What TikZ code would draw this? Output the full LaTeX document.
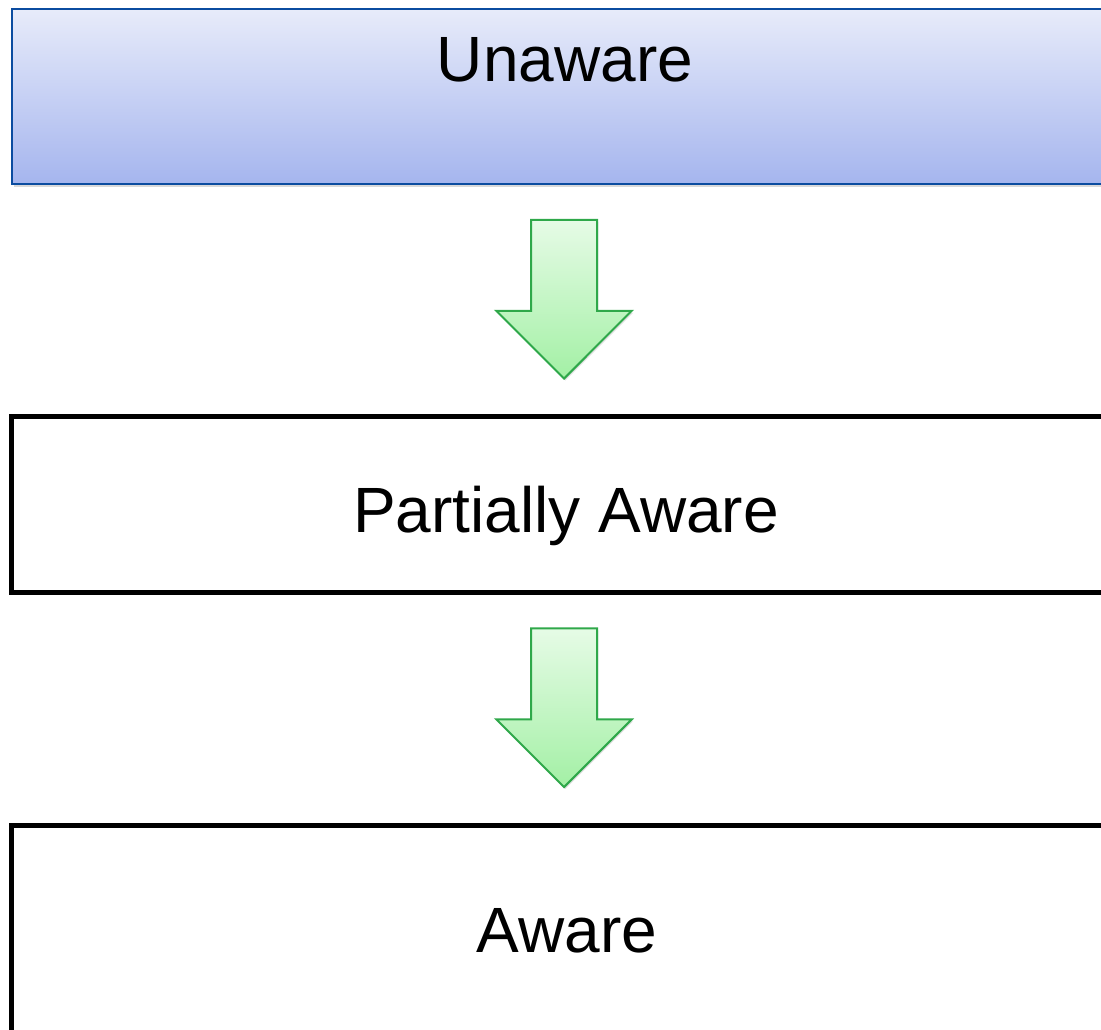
\documentclass[tikz,border=0pt]{standalone}
\usepackage{fontspec}
\setmainfont{Liberation Sans}
\usetikzlibrary{calc,positioning,shapes.arrows,shadows}
\definecolor{headblue}{HTML}{0B4CA0}
\definecolor{headtop}{HTML}{E7EBFA}
\definecolor{headbottom}{HTML}{A5B5EE}
\definecolor{arrowgreen}{HTML}{2FA84A}
\definecolor{arrowtop}{HTML}{E6FBE6}
\definecolor{arrowbottom}{HTML}{A3F0A5}

\begin{document}
\begin{tikzpicture}[x=0.75pt, y=-0.75pt,
    headbox/.style={rectangle, draw=headblue, line width=1.5pt,
        top color=headtop, bottom color=headbottom,
        minimum width=829.5pt, minimum height=131.25pt, inner sep=0pt,
        drop shadow={shadow xshift=1.5pt, shadow yshift=-2pt, opacity=0.25, fill=black!60}},
    stagebox/.style={rectangle, draw=black, line width=3.75pt, fill=white,
        minimum width=830.25pt, minimum height=132pt, inner sep=0pt},
    stagetext/.style={font=\fontsize{48}{58}\selectfont, inner sep=0pt, anchor=base},
    downarrow/.style={single arrow, shape border rotate=270, draw=arrowgreen, line width=1.5pt,
        top color=arrowtop, bottom color=arrowbottom, inner sep=24pt,
        minimum height=119pt, anchor=tip,
        single arrow head extend=26pt, single arrow tip angle=90, single arrow head indent=0pt,
        drop shadow={shadow xshift=1pt, shadow yshift=-1.5pt, opacity=0.2, fill=black!60}}
]
    \useasboundingbox (0,0) rectangle (1101,1030);
    \clip (0,0) rectangle (1101,1030);
    % the three stages
    \node[headbox] (unaware) at (565,97) {};
    \node[stagebox] (partial) at (565,504.5) {};
    \node[stagebox, minimum height=165pt] (aware) at (565,935) {};
    \node[stagetext] (unawaretxt) at (565,82) {Unaware};
    \node[stagetext] (partialtxt) at (566,533) {Partially Aware};
    \node[stagetext] (awaretxt) at (567,952) {Aware};
    % block arrows between them
    \node[downarrow] (arrowA) at ($(partial.north)+(-1,-34)$) {};
    \node[downarrow] (arrowB) at ($(aware.north)+(-1,-34)$) {};
\end{tikzpicture}
\end{document}
